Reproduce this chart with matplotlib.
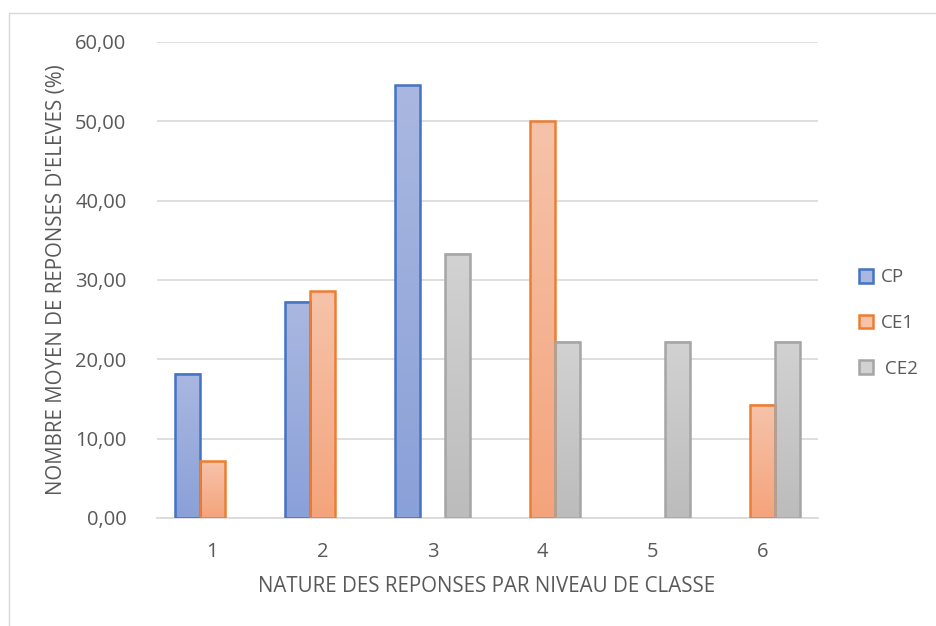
import matplotlib
matplotlib.use("Agg")
import matplotlib.pyplot as plt
import numpy as np
from matplotlib.colors import LinearSegmentedColormap
from matplotlib.patches import Rectangle

categories = ["1", "2", "3", "4", "5", "6"]
series_names = ["CP", "CE1", " CE2"]
cp = [18.18, 27.27, 54.55, 0, 0, 0]
ce1 = [7.14, 28.57, 0, 50.00, 0, 14.29]
ce2 = [0, 0, 33.33, 22.22, 22.22, 22.22]
yticks = [0, 10, 20, 30, 40, 50, 60]
xlabel = "NATURE DES REPONSES PAR NIVEAU DE CLASSE"
ylabel = "NOMBRE MOYEN DE REPONSES D'ELEVES (%)"

edge_colors = ["#4472c4", "#ed7d31", "#a5a5a5"]
grad_top = ["#aab8e0", "#f6c3aa", "#d2d2d2"]
grad_bot = ["#8aa0d8", "#f4a47c", "#bcbcbc"]

plt.rcParams['font.family'] = ['Open Sans', 'DejaVu Sans']
txt = "#595959"

fig = plt.figure(figsize=(9.36, 6.26), dpi=100)
W, H = 936, 626
ax = fig.add_axes([157 / W, 1 - 518 / H, (818 - 157) / W, (518 - 42) / H])

# outer chart border
fig.patches.append(Rectangle((9 / W, -0.05), 1.1, 1 - 13 / H + 0.05, transform=fig.transFigure,
                             fill=False, edgecolor="#d9d9d9", linewidth=1.0))

x = np.arange(len(categories))
bw = 0.227
data = [cp, ce1, ce2]
for i, vals in enumerate(data):
    offs = (i - 1) * bw
    cmap = LinearSegmentedColormap.from_list(f"g{i}", [grad_bot[i], grad_top[i]])
    bars = ax.bar(x + offs, vals, width=bw, facecolor="none", edgecolor="none",
                  label=series_names[i], zorder=3)
    for b, v in zip(bars, vals):
        if v <= 0:
            continue
        x0, y0 = b.get_x(), b.get_y()
        w, h = b.get_width(), b.get_height()
        grad = np.linspace(0, 1, 256).reshape(-1, 1)
        ax.imshow(grad, cmap=cmap, origin="lower", aspect="auto",
                  extent=[x0, x0 + w, y0, y0 + h], zorder=3, interpolation="bilinear")
        ax.add_patch(Rectangle((x0, y0), w, h, fill=False, edgecolor=edge_colors[i],
                               linewidth=1.8, zorder=4))

ax.set_xlim(-0.5, len(categories) - 0.5)
ax.set_ylim(0, 60)
ax.set_yticks(yticks)
ax.set_yticklabels([f"{t:.2f}".replace(".", ",") for t in yticks])
ax.set_xticks(x)
ax.set_xticklabels(categories)
ax.tick_params(axis="both", length=0, labelsize=14.5, colors=txt)
ax.tick_params(axis="y", pad=22)
ax.tick_params(axis="x", pad=17)
ax.yaxis.grid(True, color="#d9d9d9", linewidth=1.2, zorder=0)
ax.set_axisbelow(True)
for s in ["top", "right", "left"]:
    ax.spines[s].set_visible(False)
ax.spines["bottom"].set_color("#d9d9d9")
ax.spines["bottom"].set_linewidth(1.2)

fig.text(487 / W, 1 - 586 / H, xlabel, fontsize=14.8, color=txt, ha="center", va="center")
fig.text(57 / W, 1 - 280 / H, ylabel, fontsize=14.8, color=txt, ha="center", va="center",
         rotation=90)

# legend
handles = [Rectangle((0, 0), 1, 1, facecolor=grad_top[i], edgecolor=edge_colors[i], linewidth=1.8)
           for i in range(3)]
leg = fig.legend(handles, series_names, loc="center left", bbox_to_anchor=(842 / W, 1 - 323 / H),
                 frameon=False, fontsize=13.5, labelspacing=1.48, handlelength=0.75,
                 handleheight=0.75, handletextpad=0.4)
for t in leg.get_texts():
    t.set_color(txt)

fig.savefig("out.png", dpi=100)
